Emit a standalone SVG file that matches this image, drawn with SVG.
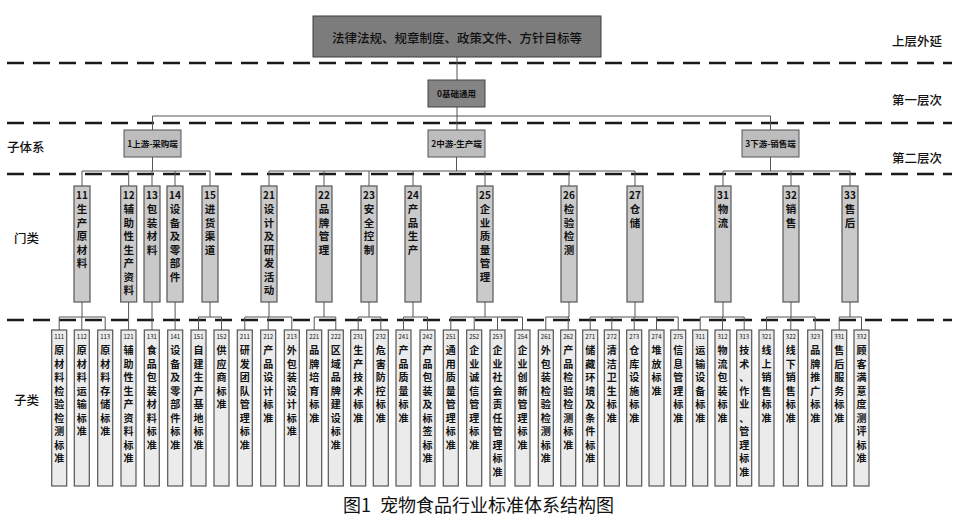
<svg xmlns="http://www.w3.org/2000/svg" width="959" height="524" viewBox="0 0 959 524">
<style>
text{font-family:"Noto Sans CJK SC","Noto Sans",sans-serif;fill:#111;}
.dash{stroke:#1a1a1a;stroke-width:2.6;stroke-dasharray:17 9;fill:none;}
.ln{stroke:#555;stroke-width:1;fill:none;}
.top{fill:#7c7c7c;stroke:#3c3c3c;stroke-width:1;}
.l1{fill:#848484;stroke:#444;stroke-width:1;}
.l2{fill:#bdbdbd;stroke:#555;stroke-width:1;}
.cat{fill:#cacaca;stroke:#555;stroke-width:1.2;}
.sub{fill:#ebebeb;stroke:#555;stroke-width:1.2;}
.side{font-size:12.5px;font-weight:500;}
.cn{font-size:10px;font-weight:700;text-anchor:middle;}
.ct{font-size:10.5px;font-weight:700;text-anchor:middle;}
.sn{font-size:6px;text-anchor:middle;}
.st{font-size:10px;font-weight:700;text-anchor:middle;}
.bx{font-size:8.5px;font-weight:700;text-anchor:middle;}
</style>
<rect width="959" height="524" fill="#fff"/>
<g id="dashes">
<line class="dash" x1="7" y1="63" x2="952" y2="63"/>
<line class="dash" x1="7" y1="123" x2="952" y2="123"/>
<line class="dash" x1="7" y1="174" x2="952" y2="174"/>
<line class="dash" x1="7" y1="320" x2="952" y2="320"/>
</g>
<g id="side-labels">
<text class="side" x="892" y="46">上层外延</text>
<text class="side" x="892" y="105">第一层次</text>
<text class="side" x="892" y="163">第二层次</text>
<text class="side" x="7" y="152">子体系</text>
<text class="side" x="14" y="243">门类</text>
<text class="side" x="14" y="405">子类</text>
</g>
<g id="connectors">
<path class="ln" d="M457 57V80M457 107V130M152.5 116H770.5M152.5 116V130M770.5 116V130"/>
<path class="ln" d="M152.5 157V171M456.5 157V171M770.5 157V171M82 171H210M269 171H635M723 171H850"/>
<path class="ln" d="M82 171V186M128.7 171V186M152 171V186M175 171V186M210 171V186M269 171V186M324 171V186M369 171V186M413 171V186M485 171V186M569 171V186M635 171V186M723 171V186M791 171V186M850 171V186"/>
<path class="ln" d="M82 302V317M59.2 317H105.2M59.2 317V330M81.8 317V330M105.2 317V330"/>
<path class="ln" d="M128.6 302V330M152 302V330M175.1 302V330"/>
<path class="ln" d="M210 302V317M198.5 317H221.5M198.5 317V330M221.5 317V330"/>
<path class="ln" d="M269 302V317M244.8 317H291.8M244.8 317V330M268.2 317V330M291.8 317V330"/>
<path class="ln" d="M324 302V317M314.2 317H335.8M314.2 317V330M335.8 317V330"/>
<path class="ln" d="M369 302V317M358.2 317H380.8M358.2 317V330M380.8 317V330"/>
<path class="ln" d="M413 302V317M403.5 317H427.5M403.5 317V330M427.5 317V330"/>
<path class="ln" d="M485 302V317M450.8 317H522.5M450.8 317V330M474.2 317V330M497.5 317V330M522.5 317V330"/>
<path class="ln" d="M569 302V317M545.8 317H569M545.8 317V330M568.2 317V330"/>
<path class="ln" d="M635 302V317M590.2 317H678.2M590.2 317V330M611.8 317V330M634.2 317V330M656.5 317V330M678.2 317V330"/>
<path class="ln" d="M723 302V317M700.2 317H744.2M700.2 317V330M722.5 317V330M744.2 317V330"/>
<path class="ln" d="M791 302V317M766.5 317H815.2M766.5 317V330M790.8 317V330M815.2 317V330"/>
<path class="ln" d="M850 302V317M839.2 317H861.5M839.2 317V330M861.5 317V330"/>
</g>
<g id="n-top"><rect class="top" x="313" y="16" width="288" height="41"/><text x="457" y="43" font-size="12.5" font-weight="500" text-anchor="middle">法律法规、规章制度、政策文件、方针目标等</text></g>
<g id="n-0"><rect class="l1" x="428" y="80" width="57" height="27"/><text class="bx" x="456.5" y="97">0基础通用</text></g>
<g id="n-1"><rect class="l2" x="124" y="130" width="57" height="27"/><text class="bx" x="152.5" y="147">1上游-采购端</text></g>
<g id="n-2"><rect class="l2" x="428" y="130" width="57" height="27"/><text class="bx" x="456.5" y="147">2中游-生产端</text></g>
<g id="n-3"><rect class="l2" x="742" y="130" width="57" height="27"/><text class="bx" x="770.5" y="147">3下游-销售端</text></g>

<g id="c-11"><rect class="cat" x="74" y="186" width="16" height="116"/><text class="cn" x="82" y="199">11</text><text class="ct"><tspan x="82" y="213">生</tspan><tspan x="82" y="226.5">产</tspan><tspan x="82" y="240">原</tspan><tspan x="82" y="253.5">材</tspan><tspan x="82" y="267">料</tspan></text></g>
<g id="c-12"><rect class="cat" x="120.7" y="186" width="16" height="116"/><text class="cn" x="128.7" y="199">12</text><text class="ct"><tspan x="128.7" y="213">辅</tspan><tspan x="128.7" y="226.5">助</tspan><tspan x="128.7" y="240">性</tspan><tspan x="128.7" y="253.5">生</tspan><tspan x="128.7" y="267">产</tspan><tspan x="128.7" y="280.5">资</tspan><tspan x="128.7" y="294">料</tspan></text></g>
<g id="c-13"><rect class="cat" x="144" y="186" width="16" height="116"/><text class="cn" x="152" y="199">13</text><text class="ct"><tspan x="152" y="213">包</tspan><tspan x="152" y="226.5">装</tspan><tspan x="152" y="240">材</tspan><tspan x="152" y="253.5">料</tspan></text></g>
<g id="c-14"><rect class="cat" x="167" y="186" width="16" height="116"/><text class="cn" x="175" y="199">14</text><text class="ct"><tspan x="175" y="213">设</tspan><tspan x="175" y="226.5">备</tspan><tspan x="175" y="240">及</tspan><tspan x="175" y="253.5">零</tspan><tspan x="175" y="267">部</tspan><tspan x="175" y="280.5">件</tspan></text></g>
<g id="c-15"><rect class="cat" x="202" y="186" width="16" height="116"/><text class="cn" x="210" y="199">15</text><text class="ct"><tspan x="210" y="213">进</tspan><tspan x="210" y="226.5">货</tspan><tspan x="210" y="240">渠</tspan><tspan x="210" y="253.5">道</tspan></text></g>
<g id="c-21"><rect class="cat" x="261" y="186" width="16" height="116"/><text class="cn" x="269" y="199">21</text><text class="ct"><tspan x="269" y="213">设</tspan><tspan x="269" y="226.5">计</tspan><tspan x="269" y="240">及</tspan><tspan x="269" y="253.5">研</tspan><tspan x="269" y="267">发</tspan><tspan x="269" y="280.5">活</tspan><tspan x="269" y="294">动</tspan></text></g>
<g id="c-22"><rect class="cat" x="316" y="186" width="16" height="116"/><text class="cn" x="324" y="199">22</text><text class="ct"><tspan x="324" y="213">品</tspan><tspan x="324" y="226.5">牌</tspan><tspan x="324" y="240">管</tspan><tspan x="324" y="253.5">理</tspan></text></g>
<g id="c-23"><rect class="cat" x="361" y="186" width="16" height="116"/><text class="cn" x="369" y="199">23</text><text class="ct"><tspan x="369" y="213">安</tspan><tspan x="369" y="226.5">全</tspan><tspan x="369" y="240">控</tspan><tspan x="369" y="253.5">制</tspan></text></g>
<g id="c-24"><rect class="cat" x="405" y="186" width="16" height="116"/><text class="cn" x="413" y="199">24</text><text class="ct"><tspan x="413" y="213">产</tspan><tspan x="413" y="226.5">品</tspan><tspan x="413" y="240">生</tspan><tspan x="413" y="253.5">产</tspan></text></g>
<g id="c-25"><rect class="cat" x="477" y="186" width="16" height="116"/><text class="cn" x="485" y="199">25</text><text class="ct"><tspan x="485" y="213">企</tspan><tspan x="485" y="226.5">业</tspan><tspan x="485" y="240">质</tspan><tspan x="485" y="253.5">量</tspan><tspan x="485" y="267">管</tspan><tspan x="485" y="280.5">理</tspan></text></g>
<g id="c-26"><rect class="cat" x="561" y="186" width="16" height="116"/><text class="cn" x="569" y="199">26</text><text class="ct"><tspan x="569" y="213">检</tspan><tspan x="569" y="226.5">验</tspan><tspan x="569" y="240">检</tspan><tspan x="569" y="253.5">测</tspan></text></g>
<g id="c-27"><rect class="cat" x="627" y="186" width="16" height="116"/><text class="cn" x="635" y="199">27</text><text class="ct"><tspan x="635" y="213">仓</tspan><tspan x="635" y="226.5">储</tspan></text></g>
<g id="c-31"><rect class="cat" x="715" y="186" width="16" height="116"/><text class="cn" x="723" y="199">31</text><text class="ct"><tspan x="723" y="213">物</tspan><tspan x="723" y="226.5">流</tspan></text></g>
<g id="c-32"><rect class="cat" x="783" y="186" width="16" height="116"/><text class="cn" x="791" y="199">32</text><text class="ct"><tspan x="791" y="213">销</tspan><tspan x="791" y="226.5">售</tspan></text></g>
<g id="c-33"><rect class="cat" x="842" y="186" width="16" height="116"/><text class="cn" x="850" y="199">33</text><text class="ct"><tspan x="850" y="213">售</tspan><tspan x="850" y="226.5">后</tspan></text></g>

<g id="s-111"><rect class="sub" x="51.7" y="330" width="15" height="156"/><text class="sn" x="59.2" y="339">111</text><text class="st"><tspan x="59.2" y="354">原</tspan><tspan x="59.2" y="367.5">材</tspan><tspan x="59.2" y="381">料</tspan><tspan x="59.2" y="394.5">检</tspan><tspan x="59.2" y="408">验</tspan><tspan x="59.2" y="421.5">检</tspan><tspan x="59.2" y="435">测</tspan><tspan x="59.2" y="448.5">标</tspan><tspan x="59.2" y="462">准</tspan></text></g>
<g id="s-112"><rect class="sub" x="74.3" y="330" width="15" height="156"/><text class="sn" x="81.8" y="339">112</text><text class="st"><tspan x="81.8" y="354">原</tspan><tspan x="81.8" y="367.5">材</tspan><tspan x="81.8" y="381">料</tspan><tspan x="81.8" y="394.5">运</tspan><tspan x="81.8" y="408">输</tspan><tspan x="81.8" y="421.5">标</tspan><tspan x="81.8" y="435">准</tspan></text></g>
<g id="s-113"><rect class="sub" x="97.7" y="330" width="15" height="156"/><text class="sn" x="105.2" y="339">113</text><text class="st"><tspan x="105.2" y="354">原</tspan><tspan x="105.2" y="367.5">材</tspan><tspan x="105.2" y="381">料</tspan><tspan x="105.2" y="394.5">存</tspan><tspan x="105.2" y="408">储</tspan><tspan x="105.2" y="421.5">标</tspan><tspan x="105.2" y="435">准</tspan></text></g>
<g id="s-121"><rect class="sub" x="121" y="330" width="15" height="156"/><text class="sn" x="128.5" y="339">121</text><text class="st"><tspan x="128.5" y="354">辅</tspan><tspan x="128.5" y="367.5">助</tspan><tspan x="128.5" y="381">性</tspan><tspan x="128.5" y="394.5">生</tspan><tspan x="128.5" y="408">产</tspan><tspan x="128.5" y="421.5">资</tspan><tspan x="128.5" y="435">料</tspan><tspan x="128.5" y="448.5">标</tspan><tspan x="128.5" y="462">准</tspan></text></g>
<g id="s-131"><rect class="sub" x="144.3" y="330" width="15" height="156"/><text class="sn" x="151.8" y="339">131</text><text class="st"><tspan x="151.8" y="354">食</tspan><tspan x="151.8" y="367.5">品</tspan><tspan x="151.8" y="381">包</tspan><tspan x="151.8" y="394.5">装</tspan><tspan x="151.8" y="408">材</tspan><tspan x="151.8" y="421.5">料</tspan><tspan x="151.8" y="435">标</tspan><tspan x="151.8" y="448.5">准</tspan></text></g>
<g id="s-141"><rect class="sub" x="167.7" y="330" width="15" height="156"/><text class="sn" x="175.2" y="339">141</text><text class="st"><tspan x="175.2" y="354">设</tspan><tspan x="175.2" y="367.5">备</tspan><tspan x="175.2" y="381">及</tspan><tspan x="175.2" y="394.5">零</tspan><tspan x="175.2" y="408">部</tspan><tspan x="175.2" y="421.5">件</tspan><tspan x="175.2" y="435">标</tspan><tspan x="175.2" y="448.5">准</tspan></text></g>
<g id="s-151"><rect class="sub" x="191" y="330" width="15" height="156"/><text class="sn" x="198.5" y="339">151</text><text class="st"><tspan x="198.5" y="354">自</tspan><tspan x="198.5" y="367.5">建</tspan><tspan x="198.5" y="381">生</tspan><tspan x="198.5" y="394.5">产</tspan><tspan x="198.5" y="408">基</tspan><tspan x="198.5" y="421.5">地</tspan><tspan x="198.5" y="435">标</tspan><tspan x="198.5" y="448.5">准</tspan></text></g>
<g id="s-152"><rect class="sub" x="214" y="330" width="15" height="156"/><text class="sn" x="221.5" y="339">152</text><text class="st"><tspan x="221.5" y="354">供</tspan><tspan x="221.5" y="367.5">应</tspan><tspan x="221.5" y="381">商</tspan><tspan x="221.5" y="394.5">标</tspan><tspan x="221.5" y="408">准</tspan></text></g>
<g id="s-211"><rect class="sub" x="237.3" y="330" width="15" height="156"/><text class="sn" x="244.8" y="339">211</text><text class="st"><tspan x="244.8" y="354">研</tspan><tspan x="244.8" y="367.5">发</tspan><tspan x="244.8" y="381">团</tspan><tspan x="244.8" y="394.5">队</tspan><tspan x="244.8" y="408">管</tspan><tspan x="244.8" y="421.5">理</tspan><tspan x="244.8" y="435">标</tspan><tspan x="244.8" y="448.5">准</tspan></text></g>
<g id="s-212"><rect class="sub" x="260.7" y="330" width="15" height="156"/><text class="sn" x="268.2" y="339">212</text><text class="st"><tspan x="268.2" y="354">产</tspan><tspan x="268.2" y="367.5">品</tspan><tspan x="268.2" y="381">设</tspan><tspan x="268.2" y="394.5">计</tspan><tspan x="268.2" y="408">标</tspan><tspan x="268.2" y="421.5">准</tspan></text></g>
<g id="s-213"><rect class="sub" x="284.3" y="330" width="15" height="156"/><text class="sn" x="291.8" y="339">213</text><text class="st"><tspan x="291.8" y="354">外</tspan><tspan x="291.8" y="367.5">包</tspan><tspan x="291.8" y="381">装</tspan><tspan x="291.8" y="394.5">设</tspan><tspan x="291.8" y="408">计</tspan><tspan x="291.8" y="421.5">标</tspan><tspan x="291.8" y="435">准</tspan></text></g>
<g id="s-221"><rect class="sub" x="306.7" y="330" width="15" height="156"/><text class="sn" x="314.2" y="339">221</text><text class="st"><tspan x="314.2" y="354">品</tspan><tspan x="314.2" y="367.5">牌</tspan><tspan x="314.2" y="381">培</tspan><tspan x="314.2" y="394.5">育</tspan><tspan x="314.2" y="408">标</tspan><tspan x="314.2" y="421.5">准</tspan></text></g>
<g id="s-222"><rect class="sub" x="328.3" y="330" width="15" height="156"/><text class="sn" x="335.8" y="339">222</text><text class="st"><tspan x="335.8" y="354">区</tspan><tspan x="335.8" y="367.5">域</tspan><tspan x="335.8" y="381">品</tspan><tspan x="335.8" y="394.5">牌</tspan><tspan x="335.8" y="408">建</tspan><tspan x="335.8" y="421.5">设</tspan><tspan x="335.8" y="435">标</tspan><tspan x="335.8" y="448.5">准</tspan></text></g>
<g id="s-231"><rect class="sub" x="350.7" y="330" width="15" height="156"/><text class="sn" x="358.2" y="339">231</text><text class="st"><tspan x="358.2" y="354">生</tspan><tspan x="358.2" y="367.5">产</tspan><tspan x="358.2" y="381">技</tspan><tspan x="358.2" y="394.5">术</tspan><tspan x="358.2" y="408">标</tspan><tspan x="358.2" y="421.5">准</tspan></text></g>
<g id="s-232"><rect class="sub" x="373.3" y="330" width="15" height="156"/><text class="sn" x="380.8" y="339">232</text><text class="st"><tspan x="380.8" y="354">危</tspan><tspan x="380.8" y="367.5">害</tspan><tspan x="380.8" y="381">防</tspan><tspan x="380.8" y="394.5">控</tspan><tspan x="380.8" y="408">标</tspan><tspan x="380.8" y="421.5">准</tspan></text></g>
<g id="s-241"><rect class="sub" x="396" y="330" width="15" height="156"/><text class="sn" x="403.5" y="339">241</text><text class="st"><tspan x="403.5" y="354">产</tspan><tspan x="403.5" y="367.5">品</tspan><tspan x="403.5" y="381">质</tspan><tspan x="403.5" y="394.5">量</tspan><tspan x="403.5" y="408">标</tspan><tspan x="403.5" y="421.5">准</tspan></text></g>
<g id="s-242"><rect class="sub" x="420" y="330" width="15" height="156"/><text class="sn" x="427.5" y="339">242</text><text class="st"><tspan x="427.5" y="354">产</tspan><tspan x="427.5" y="367.5">品</tspan><tspan x="427.5" y="381">包</tspan><tspan x="427.5" y="394.5">装</tspan><tspan x="427.5" y="408">及</tspan><tspan x="427.5" y="421.5">标</tspan><tspan x="427.5" y="435">签</tspan><tspan x="427.5" y="448.5">标</tspan><tspan x="427.5" y="462">准</tspan></text></g>
<g id="s-251"><rect class="sub" x="443.3" y="330" width="15" height="156"/><text class="sn" x="450.8" y="339">251</text><text class="st"><tspan x="450.8" y="354">通</tspan><tspan x="450.8" y="367.5">用</tspan><tspan x="450.8" y="381">质</tspan><tspan x="450.8" y="394.5">量</tspan><tspan x="450.8" y="408">管</tspan><tspan x="450.8" y="421.5">理</tspan><tspan x="450.8" y="435">标</tspan><tspan x="450.8" y="448.5">准</tspan></text></g>
<g id="s-252"><rect class="sub" x="466.7" y="330" width="15" height="156"/><text class="sn" x="474.2" y="339">252</text><text class="st"><tspan x="474.2" y="354">企</tspan><tspan x="474.2" y="367.5">业</tspan><tspan x="474.2" y="381">诚</tspan><tspan x="474.2" y="394.5">信</tspan><tspan x="474.2" y="408">管</tspan><tspan x="474.2" y="421.5">理</tspan><tspan x="474.2" y="435">标</tspan><tspan x="474.2" y="448.5">准</tspan></text></g>
<g id="s-253"><rect class="sub" x="490" y="330" width="15" height="156"/><text class="sn" x="497.5" y="339">253</text><text class="st"><tspan x="497.5" y="354">企</tspan><tspan x="497.5" y="367.5">业</tspan><tspan x="497.5" y="381">社</tspan><tspan x="497.5" y="394.5">会</tspan><tspan x="497.5" y="408">责</tspan><tspan x="497.5" y="421.5">任</tspan><tspan x="497.5" y="435">管</tspan><tspan x="497.5" y="448.5">理</tspan><tspan x="497.5" y="462">标</tspan><tspan x="497.5" y="475.5">准</tspan></text></g>
<g id="s-254"><rect class="sub" x="515" y="330" width="15" height="156"/><text class="sn" x="522.5" y="339">254</text><text class="st"><tspan x="522.5" y="354">企</tspan><tspan x="522.5" y="367.5">业</tspan><tspan x="522.5" y="381">创</tspan><tspan x="522.5" y="394.5">新</tspan><tspan x="522.5" y="408">管</tspan><tspan x="522.5" y="421.5">理</tspan><tspan x="522.5" y="435">标</tspan><tspan x="522.5" y="448.5">准</tspan></text></g>
<g id="s-261"><rect class="sub" x="538.3" y="330" width="15" height="156"/><text class="sn" x="545.8" y="339">261</text><text class="st"><tspan x="545.8" y="354">外</tspan><tspan x="545.8" y="367.5">包</tspan><tspan x="545.8" y="381">装</tspan><tspan x="545.8" y="394.5">检</tspan><tspan x="545.8" y="408">验</tspan><tspan x="545.8" y="421.5">检</tspan><tspan x="545.8" y="435">测</tspan><tspan x="545.8" y="448.5">标</tspan><tspan x="545.8" y="462">准</tspan></text></g>
<g id="s-262"><rect class="sub" x="560.7" y="330" width="15" height="156"/><text class="sn" x="568.2" y="339">262</text><text class="st"><tspan x="568.2" y="354">产</tspan><tspan x="568.2" y="367.5">品</tspan><tspan x="568.2" y="381">检</tspan><tspan x="568.2" y="394.5">验</tspan><tspan x="568.2" y="408">检</tspan><tspan x="568.2" y="421.5">测</tspan><tspan x="568.2" y="435">标</tspan><tspan x="568.2" y="448.5">准</tspan></text></g>
<g id="s-271"><rect class="sub" x="582.7" y="330" width="15" height="156"/><text class="sn" x="590.2" y="339">271</text><text class="st"><tspan x="590.2" y="354">储</tspan><tspan x="590.2" y="367.5">藏</tspan><tspan x="590.2" y="381">环</tspan><tspan x="590.2" y="394.5">境</tspan><tspan x="590.2" y="408">及</tspan><tspan x="590.2" y="421.5">条</tspan><tspan x="590.2" y="435">件</tspan><tspan x="590.2" y="448.5">标</tspan><tspan x="590.2" y="462">准</tspan></text></g>
<g id="s-272"><rect class="sub" x="604.3" y="330" width="15" height="156"/><text class="sn" x="611.8" y="339">272</text><text class="st"><tspan x="611.8" y="354">清</tspan><tspan x="611.8" y="367.5">洁</tspan><tspan x="611.8" y="381">卫</tspan><tspan x="611.8" y="394.5">生</tspan><tspan x="611.8" y="408">标</tspan><tspan x="611.8" y="421.5">准</tspan></text></g>
<g id="s-273"><rect class="sub" x="626.7" y="330" width="15" height="156"/><text class="sn" x="634.2" y="339">273</text><text class="st"><tspan x="634.2" y="354">仓</tspan><tspan x="634.2" y="367.5">库</tspan><tspan x="634.2" y="381">设</tspan><tspan x="634.2" y="394.5">施</tspan><tspan x="634.2" y="408">标</tspan><tspan x="634.2" y="421.5">准</tspan></text></g>
<g id="s-274"><rect class="sub" x="649" y="330" width="15" height="156"/><text class="sn" x="656.5" y="339">274</text><text class="st"><tspan x="656.5" y="354">堆</tspan><tspan x="656.5" y="367.5">放</tspan><tspan x="656.5" y="381">标</tspan><tspan x="656.5" y="394.5">准</tspan></text></g>
<g id="s-275"><rect class="sub" x="670.7" y="330" width="15" height="156"/><text class="sn" x="678.2" y="339">275</text><text class="st"><tspan x="678.2" y="354">信</tspan><tspan x="678.2" y="367.5">息</tspan><tspan x="678.2" y="381">管</tspan><tspan x="678.2" y="394.5">理</tspan><tspan x="678.2" y="408">标</tspan><tspan x="678.2" y="421.5">准</tspan></text></g>
<g id="s-311"><rect class="sub" x="692.7" y="330" width="15" height="156"/><text class="sn" x="700.2" y="339">311</text><text class="st"><tspan x="700.2" y="354">运</tspan><tspan x="700.2" y="367.5">输</tspan><tspan x="700.2" y="381">设</tspan><tspan x="700.2" y="394.5">备</tspan><tspan x="700.2" y="408">标</tspan><tspan x="700.2" y="421.5">准</tspan></text></g>
<g id="s-312"><rect class="sub" x="715" y="330" width="15" height="156"/><text class="sn" x="722.5" y="339">312</text><text class="st"><tspan x="722.5" y="354">物</tspan><tspan x="722.5" y="367.5">流</tspan><tspan x="722.5" y="381">包</tspan><tspan x="722.5" y="394.5">装</tspan><tspan x="722.5" y="408">标</tspan><tspan x="722.5" y="421.5">准</tspan></text></g>
<g id="s-313"><rect class="sub" x="736.7" y="330" width="15" height="156"/><text class="sn" x="744.2" y="339">313</text><text class="st"><tspan x="744.2" y="354">技</tspan><tspan x="744.2" y="367.5">术</tspan><tspan x="744.2" y="381">、</tspan><tspan x="744.2" y="394.5">作</tspan><tspan x="744.2" y="408">业</tspan><tspan x="744.2" y="421.5">、</tspan><tspan x="744.2" y="435">管</tspan><tspan x="744.2" y="448.5">理</tspan><tspan x="744.2" y="462">标</tspan><tspan x="744.2" y="475.5">准</tspan></text></g>
<g id="s-321"><rect class="sub" x="759" y="330" width="15" height="156"/><text class="sn" x="766.5" y="339">321</text><text class="st"><tspan x="766.5" y="354">线</tspan><tspan x="766.5" y="367.5">上</tspan><tspan x="766.5" y="381">销</tspan><tspan x="766.5" y="394.5">售</tspan><tspan x="766.5" y="408">标</tspan><tspan x="766.5" y="421.5">准</tspan></text></g>
<g id="s-322"><rect class="sub" x="783.3" y="330" width="15" height="156"/><text class="sn" x="790.8" y="339">322</text><text class="st"><tspan x="790.8" y="354">线</tspan><tspan x="790.8" y="367.5">下</tspan><tspan x="790.8" y="381">销</tspan><tspan x="790.8" y="394.5">售</tspan><tspan x="790.8" y="408">标</tspan><tspan x="790.8" y="421.5">准</tspan></text></g>
<g id="s-323"><rect class="sub" x="807.7" y="330" width="15" height="156"/><text class="sn" x="815.2" y="339">323</text><text class="st"><tspan x="815.2" y="354">品</tspan><tspan x="815.2" y="367.5">牌</tspan><tspan x="815.2" y="381">推</tspan><tspan x="815.2" y="394.5">广</tspan><tspan x="815.2" y="408">标</tspan><tspan x="815.2" y="421.5">准</tspan></text></g>
<g id="s-331"><rect class="sub" x="831.7" y="330" width="15" height="156"/><text class="sn" x="839.2" y="339">331</text><text class="st"><tspan x="839.2" y="354">售</tspan><tspan x="839.2" y="367.5">后</tspan><tspan x="839.2" y="381">服</tspan><tspan x="839.2" y="394.5">务</tspan><tspan x="839.2" y="408">标</tspan><tspan x="839.2" y="421.5">准</tspan></text></g>
<g id="s-332"><rect class="sub" x="854" y="330" width="15" height="156"/><text class="sn" x="861.5" y="339">332</text><text class="st"><tspan x="861.5" y="354">顾</tspan><tspan x="861.5" y="367.5">客</tspan><tspan x="861.5" y="381">满</tspan><tspan x="861.5" y="394.5">意</tspan><tspan x="861.5" y="408">度</tspan><tspan x="861.5" y="421.5">测</tspan><tspan x="861.5" y="435">评</tspan><tspan x="861.5" y="448.5">标</tspan><tspan x="861.5" y="462">准</tspan></text></g>

<g id="caption"><text font-size="18" y="512"><tspan x="343">图1</tspan><tspan x="380">宠物食品行业标准体系结构图</tspan></text></g>
</svg>
